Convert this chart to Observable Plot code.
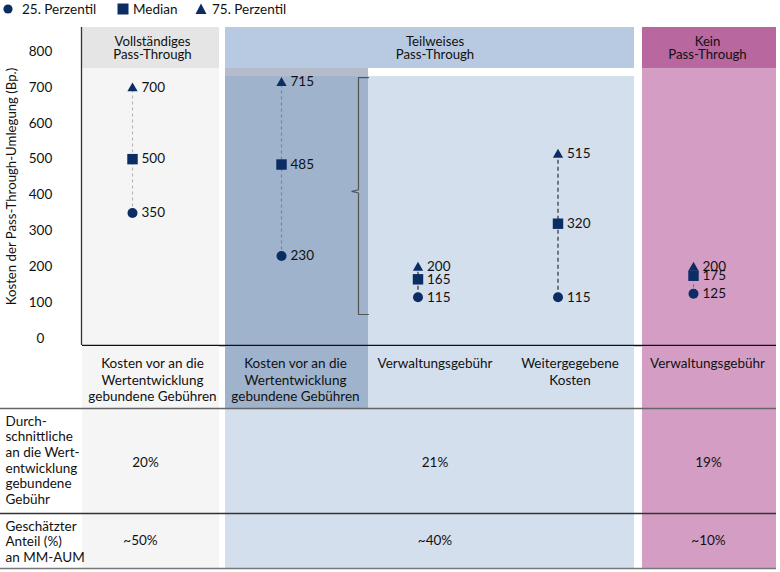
<!DOCTYPE html>
<html>
<head>
<meta charset="utf-8">
<script src="https://cdn.jsdelivr.net/npm/d3@7"></script>
<script src="https://cdn.jsdelivr.net/npm/@observablehq/plot@0.6"></script>
<style>
  html, body { margin: 0; padding: 0; background: #fff; }
  body { font-family: Lato, "Noto Sans", sans-serif; color: #111; width: 780px; }
  #legend { position: relative; height: 22px; font-size: 13.5px; }
  #legend .item { position: absolute; top: 0; height: 17px; display: flex; align-items: center; }
  #legend svg { display: block; }
  #chart svg, #table svg { display: block; }
</style>
</head>
<body>
<div id="legend"></div>
<div id="chart"></div>
<div id="table"></div>
<script>
// ---------------- DATA ----------------
const groups = ["Vollständiges\nPass-Through", "Teilweises\nPass-Through", "Kein\nPass-Through"];
const categories = [
  "Kosten vor an die\nWertentwicklung\ngebundene Gebühren",
  "Kosten vor an die\nWertentwicklung\ngebundene Gebühren",
  "Verwaltungsgebühr",
  "Weitergegebene\nKosten",
  "Verwaltungsgebühr"
];
const categoryGroup = [0, 1, 1, 1, 2];
const p25 = [350, 230, 115, 115, 125];
const median = [500, 485, 165, 320, 175];
const p75 = [700, 715, 200, 515, 200];
const avgPerfFee = ["20%", "21%", "19%"];
const aumShare = ["~50%", "~40%", "~10%"];
const rowLabels = [
  "Durch-\nschnittliche\nan die Wert-\nentwicklung\ngebundene\nGebühr",
  "Geschätzter\nAnteil (%)\nan MM-AUM"
];
const yTicks = [0, 100, 200, 300, 400, 500, 600, 700, 800];
const legendLabels = ["25. Perzentil", "Median", "75. Perzentil"];
const yLabel = "Kosten der Pass-Through-Umlegung (Bp.)";

// ---------------- STYLE / LAYOUT ----------------
const navy = "#0c2d63";
const fs = 13.5;
const xBreaks = [0, 1, 2, 3, 4, 5];
const xRange = [82, 222, 368, 501, 638, 776];
const groupStyle = [
  {head: "#e5e5e5", body: "#f5f5f5", insetLeft: 0, insetRight: 3},
  {head: "#b8cae1", body: "#d3dfed", insetLeft: 3, insetRight: 4},
  {head: "#b8679f", body: "#d49ec4", insetLeft: 4, insetRight: 0}
];
const highlightCol = 1;
const highlightFill = "#9fb3cd";
const highlightBand = "#b4bccc";
const connectorStyle = [
  {stroke: "#b5b5b5", dash: "3,3"},
  {stroke: "#74829a", dash: "3,3"},
  {stroke: "#222222", dash: "4,3"},
  {stroke: "#222222", dash: "4,3"},
  {stroke: "#7a6688", dash: "3,3"}
];
const markerDx = [-20, -14, -17, -12, -14];
const labelGap = 9;

const colIdx = d3.range(categories.length);
const groupSpans = groups.map((name, g) => {
  const cols = colIdx.filter(i => categoryGroup[i] === g);
  return {name, g, x1: d3.min(cols), x2: d3.max(cols) + 1};
});
const groupValueDx = [-7, 0, 1];

// y geometry of the upper chart (value units)
const yMin = -19.5, yMax = 867, headBottom = 752.6, bodyTop = 730.3;

// ---------------- LEGEND ----------------
const legend = d3.select("#legend");
const legendLeft = [2, 117, 195];
const legendGap = [8, 4, 5];
legendLabels.forEach((lab, k) => {
  const it = legend.append("div").attr("class", "item").style("left", legendLeft[k] + "px");
  const s = it.append("svg").attr("width", 12).attr("height", 12).style("margin-right", legendGap[k] + "px");
  if (k === 0) s.append("circle").attr("cx", 6).attr("cy", 6).attr("r", 4.6).attr("fill", navy);
  if (k === 1) s.append("rect").attr("x", 0.5).attr("y", 0.5).attr("width", 11).attr("height", 11).attr("fill", navy);
  if (k === 2) s.append("path").attr("d", "M6,0.5L11.5,11L0.5,11Z").attr("fill", navy);
  it.append("span").text(lab);
});

// ---------------- CHART ----------------
const chartMarks = [];
// headers
groupSpans.forEach(d => {
  const st = groupStyle[d.g];
  chartMarks.push(Plot.rect([d], {x1: "x1", x2: "x2", y1: headBottom, y2: yMax, fill: st.head, insetLeft: st.insetLeft, insetRight: st.insetRight}));
});
// bodies
groupSpans.forEach(d => {
  const st = groupStyle[d.g];
  if (d.g === 1) {
    const rest = {x1: highlightCol + 1, x2: d.x2};
    chartMarks.push(Plot.rect([rest], {x1: "x1", x2: "x2", y1: yMin, y2: bodyTop, fill: st.body, insetRight: st.insetRight}));
    chartMarks.push(Plot.rect([{x1: highlightCol, x2: highlightCol + 1}], {x1: "x1", x2: "x2", y1: bodyTop, y2: headBottom, fill: highlightBand, insetLeft: st.insetLeft}));
    chartMarks.push(Plot.rect([{x1: highlightCol, x2: highlightCol + 1}], {x1: "x1", x2: "x2", y1: yMin, y2: bodyTop, fill: highlightFill, insetLeft: st.insetLeft}));
  } else {
    chartMarks.push(Plot.rect([d], {x1: "x1", x2: "x2", y1: yMin, y2: headBottom, fill: st.body, insetLeft: st.insetLeft, insetRight: st.insetRight}));
  }
});
// header texts
chartMarks.push(Plot.text(groupSpans, {x: d => (d.x1 + d.x2) / 2, y: (headBottom + yMax) / 2, text: "name", fontSize: 13.2, lineHeight: 1.0, fill: "#111"}));
// axis line and frame bottom
chartMarks.push(Plot.ruleX([0], {stroke: "#333", strokeWidth: 1.3, dx: -1}));
chartMarks.push(Plot.ruleY([yMin], {stroke: "#111", strokeWidth: 1.5}));
// y tick labels
chartMarks.push(Plot.text(yTicks, {y: d => d, frameAnchor: "left", dx: -42, textAnchor: "middle", fontSize: fs, fill: "#111", text: d => String(d)}));
chartMarks.push(Plot.text([yLabel], {frameAnchor: "left", textAnchor: "middle", dx: -71, rotate: -90, fontSize: 13.2, fill: "#111"}));
// bracket around highlighted column
const pxUnit = 1 / (xRange[highlightCol + 1] - xRange[highlightCol]);
const bx = highlightCol + 1, bIn = bx - 10 * pxUnit, bTip = bx - 16.5 * pxUnit;
const bTop = 727.5, bBot = 66.9, bMid = (bTop + bBot) / 2 + 13;
chartMarks.push(Plot.line([[bx, bTop], [bIn, bTop], [bIn, bMid + 4.5], [bTip, bMid], [bIn, bMid - 4.5], [bIn, bBot], [bx, bBot]],
  {x: d => d[0], y: d => d[1], stroke: "#555", strokeWidth: 1.2, curve: "linear"}));
// connectors, markers and labels per column
colIdx.forEach(i => {
  const st = connectorStyle[i];
  const dx = markerDx[i];
  chartMarks.push(Plot.ruleX([i], {x: j => j + 0.5, y1: j => p25[j], y2: j => p75[j], dx, stroke: st.stroke, strokeDasharray: st.dash, strokeWidth: 1.1}));
});
colIdx.forEach(i => {
  const dx = markerDx[i];
  chartMarks.push(Plot.dot([i], {x: j => j + 0.5, y: j => p25[j], symbol: "circle", r: 5, fill: navy, dx}));
  chartMarks.push(Plot.dot([i], {x: j => j + 0.5, y: j => median[j], symbol: "square", r: 5.9, fill: navy, dx}));
  chartMarks.push(Plot.dot([i], {x: j => j + 0.5, y: j => p75[j], symbol: "triangle", r: 3.8, fill: navy, dx, dy: 1}));
  [p25, median, p75].forEach(arr => {
    chartMarks.push(Plot.text([i], {x: j => j + 0.5, y: j => arr[j], text: j => String(arr[j]), dx: dx + labelGap, textAnchor: "start", fontSize: fs, fill: "#111"}));
  });
});

const chart = Plot.plot({
  width: 780, height: 324,
  marginLeft: 82, marginRight: 4, marginTop: 5, marginBottom: 1,
  x: {type: "linear", domain: xBreaks, range: xRange, axis: null},
  y: {type: "linear", domain: [yMin, yMax], range: [323, 5], axis: null},
  style: {fontFamily: "Lato, 'Noto Sans', sans-serif", fontSize: fs + "px", color: "#111", background: "transparent", overflow: "visible"},
  marks: chartMarks
});
document.getElementById("chart").append(chart);

// ---------------- TABLE ----------------
const tableMarks = [];
// backgrounds
groupSpans.forEach(d => {
  const st = groupStyle[d.g];
  if (d.g === 1) {
    tableMarks.push(Plot.rect([{x1: highlightCol, x2: highlightCol + 1}], {x1: "x1", x2: "x2", y1: 0, y2: 1, fill: highlightFill, insetLeft: st.insetLeft}));
    tableMarks.push(Plot.rect([{x1: highlightCol + 1, x2: d.x2}], {x1: "x1", x2: "x2", y1: 0, y2: 1, fill: st.body, insetRight: st.insetRight}));
    tableMarks.push(Plot.rect([d], {x1: "x1", x2: "x2", y1: 1, y2: 3, fill: st.body, insetLeft: st.insetLeft, insetRight: st.insetRight}));
  } else {
    tableMarks.push(Plot.rect([d], {x1: "x1", x2: "x2", y1: 0, y2: 3, fill: st.body, insetLeft: st.insetLeft, insetRight: st.insetRight}));
  }
});
// row separators
tableMarks.push(Plot.ruleY([1], {stroke: "#666", strokeWidth: 1.5}));
tableMarks.push(Plot.ruleY([2], {stroke: "#333", strokeWidth: 1.3}));
tableMarks.push(Plot.ruleY([3], {stroke: "#777", strokeWidth: 1.5}));
// category labels
tableMarks.push(Plot.text(colIdx, {x: i => i + 0.5, y: 0, text: i => categories[i], lineAnchor: "top", dy: 10, fontSize: fs, lineHeight: 1.22, fill: "#111"}));
// row labels
rowLabels.forEach((lab, r) => {
  tableMarks.push(Plot.text([lab], {frameAnchor: "left", y: r + 1, dx: 5, dy: 6, lineAnchor: "top", textAnchor: "start", fontSize: fs, lineHeight: 1.16, fill: "#111"}));
});
// values
groupSpans.forEach(d => {
  tableMarks.push(Plot.text([d], {x: e => (e.x1 + e.x2) / 2, y: 1.5, dy: 2, dx: groupValueDx[d.g], text: e => avgPerfFee[e.g], fontSize: fs, fill: "#111"}));
  tableMarks.push(Plot.text([d], {x: e => (e.x1 + e.x2) / 2, y: 2.5, dx: groupValueDx[d.g] - 5 * (d.g === 0), text: e => aumShare[e.g], fontSize: fs, fill: "#111"}));
});

const table = Plot.plot({
  width: 780, height: 226,
  marginLeft: 0, marginRight: 4, marginTop: 0, marginBottom: 0,
  x: {type: "linear", domain: xBreaks, range: xRange, axis: null},
  y: {type: "linear", domain: [0, 1, 2, 3], range: [0, 62, 167, 222], axis: null},
  style: {fontFamily: "Lato, 'Noto Sans', sans-serif", fontSize: fs + "px", color: "#111", background: "transparent", overflow: "visible"},
  marks: tableMarks
});
document.getElementById("table").append(table);
</script>
</body>
</html>
